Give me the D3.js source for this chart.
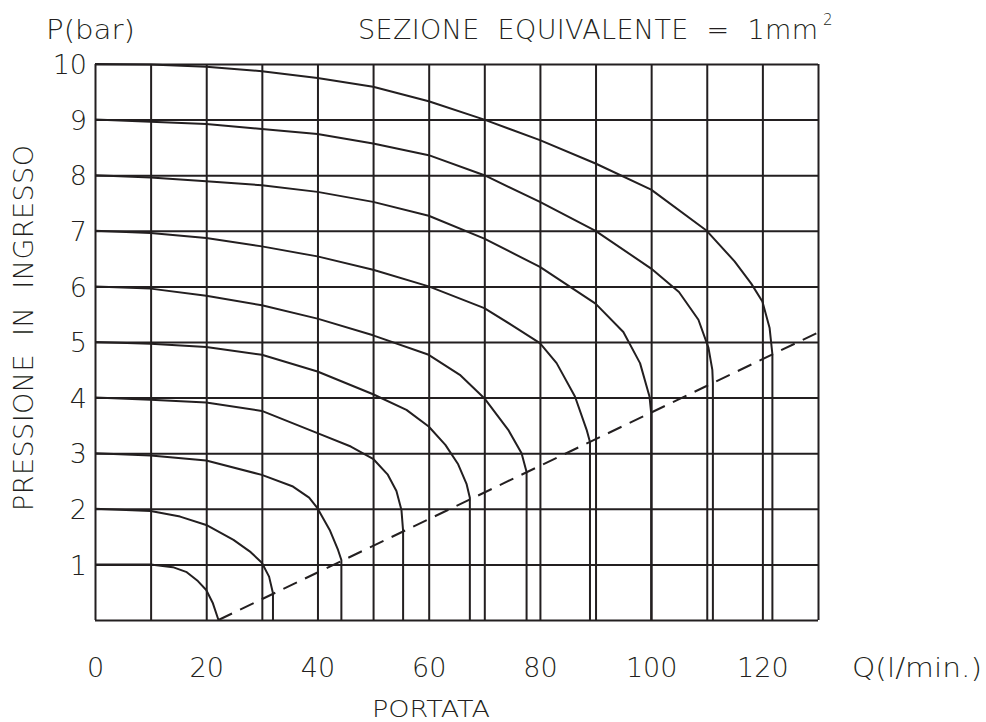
<!DOCTYPE html>
<html>
<head>
<meta charset="utf-8">
<script src="https://cdn.jsdelivr.net/npm/d3@7"></script>
<style>
body{margin:0;background:#fff;}
text{font-family:"DejaVu Sans",sans-serif;font-weight:200;fill:#231f20;}
</style>
</head>
<body>
<svg id="chart" width="986" height="722"></svg>
<script>
var ink = "#231f20";

// axis ticks
var qGrid = [0,10,20,30,40,50,60,70,80,90,100,110,120,130];
var pGrid = [0,1,2,3,4,5,6,7,8,9,10];
var qLabels = [0,20,40,60,80,100,120];
var pLabels = [1,2,3,4,5,6,7,8,9,10];

// curves: [Q (l/min), P (bar)], one per inlet pressure
var curve1  = [[0,1],[10,1],[14,0.95],[16.5,0.86],[18.5,0.7],[20,0.54],[21.2,0.3],[22.2,0]];
var curve2  = [[0,2],[10,1.96],[15.3,1.86],[20,1.71],[24.9,1.44],[28,1.22],[30,1.03],[31.3,0.78],[32,0.48],[32,0]];
var curve3  = [[0,3],[10,2.96],[20,2.87],[30,2.61],[35.6,2.4],[38.5,2.2],[40,2.01],[42.2,1.62],[43.7,1.26],[44.3,1.08],[44.3,0]];
var curve4  = [[0,4],[10,3.96],[20,3.91],[30,3.76],[40,3.36],[46,3.12],[50,2.9],[52.6,2.62],[54.2,2.32],[55.1,1.98],[55.4,1.6],[55.4,0]];
var curve5  = [[0,5],[10,4.97],[20,4.91],[30,4.77],[40,4.47],[50,4.06],[56,3.78],[60,3.48],[63,3.15],[65.3,2.8],[66.8,2.45],[67.4,2.2],[67.4,0]];
var curve6  = [[0,6],[10,5.96],[20,5.83],[30,5.66],[40,5.42],[50,5.12],[60,4.77],[65.6,4.41],[70,3.99],[74.3,3.42],[76.7,3.0],[77.6,2.66],[77.6,0]];
var curve7  = [[0,7],[10,6.96],[20,6.87],[30,6.72],[40,6.54],[50,6.3],[60,6.0],[70,5.61],[75,5.3],[80,4.98],[83,4.62],[86.3,4.02],[88.4,3.42],[89,3.2],[89,0]];
var curve8  = [[0,8],[10,7.96],[20,7.89],[30,7.82],[40,7.7],[50,7.52],[60,7.27],[70,6.86],[80,6.35],[90,5.69],[95,5.18],[98,4.62],[99.7,4.02],[100,3.73],[100,0]];
var curve9  = [[0,9],[10,8.96],[20,8.92],[30,8.83],[40,8.74],[50,8.57],[60,8.36],[70,8.0],[80,7.52],[90,7.0],[100,6.32],[105,5.9],[108.5,5.4],[110.3,4.9],[111,4.5],[111.1,4.26],[111.1,0]];
var curve10 = [[0,10],[10,9.99],[20,9.95],[30,9.87],[40,9.75],[50,9.59],[60,9.33],[70,9.0],[80,8.63],[90,8.21],[100,7.74],[110,7.0],[115,6.45],[118,6.05],[120,5.73],[121.3,5.25],[121.8,4.78],[121.8,0]];
var curves = [curve1,curve2,curve3,curve4,curve5,curve6,curve7,curve8,curve9,curve10];

// dashed limit line
var chokeLine = [[22.2,0],[130,5.17]];

var svg = d3.select("#chart");
var x = d3.scaleLinear().domain([0,130]).range([95,818]);
var y = d3.scaleLinear().domain([0,10]).range([620,64]);

// grid
var gx = svg.append("g").attr("transform","translate(0,620)")
	.call(d3.axisBottom(x).tickValues(qGrid).tickSize(-(620-64)).tickFormat(""));
gx.select(".domain").remove();
gx.selectAll("line").attr("stroke",ink).attr("stroke-width",2);

var gy = svg.append("g").attr("transform","translate(95,0)")
	.call(d3.axisLeft(y).tickValues(pGrid).tickSize(-(818-95)).tickFormat(""));
gy.select(".domain").remove();
gy.selectAll("line").attr("stroke",ink).attr("stroke-width",2);

// tick labels
var lx = svg.append("g").attr("transform","translate(0,620)")
	.call(d3.axisBottom(x).tickValues(qLabels).tickSize(0).tickPadding(57));
lx.select(".domain").remove();
lx.selectAll("text").attr("font-size",27).attr("font-family",null).attr("fill",ink).attr("dy",null);

var ly = svg.append("g").attr("transform","translate(95,0)")
	.call(d3.axisLeft(y).tickValues(pLabels).tickSize(0).tickPadding(8));
ly.select(".domain").remove();
ly.selectAll("text").attr("font-size",27).attr("font-family",null).attr("fill",ink).attr("dy","0.36em");

// curves
var line = d3.line().x(function(d){return x(d[0]);}).y(function(d){return y(d[1]);});
svg.append("g").selectAll("path").data(curves).enter().append("path")
	.attr("d",line).attr("fill","none").attr("stroke",ink).attr("stroke-width",2)
	.attr("stroke-linejoin","round");

svg.append("path").datum(chokeLine).attr("d",line).attr("fill","none")
	.attr("stroke",ink).attr("stroke-width",2).attr("stroke-dasharray","15,9");

// titles
svg.append("text").attr("x",46).attr("y",39).attr("font-size",27)
	.attr("textLength",89).attr("lengthAdjust","spacingAndGlyphs").text("P(bar)");
svg.append("text").attr("x",358).attr("y",39).attr("font-size",27)
	.attr("textLength",460).attr("lengthAdjust","spacing")
	.attr("xml:space","preserve").text("SEZIONE  EQUIVALENTE  =  1mm");
svg.append("text").attr("x",823).attr("y",25).attr("font-size",15).text("2");
svg.append("text").attr("x",852).attr("y",677).attr("font-size",27)
	.attr("textLength",130).attr("lengthAdjust","spacingAndGlyphs").text("Q(l/min.)");
svg.append("text").attr("x",372).attr("y",717).attr("font-size",23)
	.attr("textLength",118).attr("lengthAdjust","spacingAndGlyphs").text("PORTATA");
svg.append("text").attr("transform","translate(33,511) rotate(-90)").attr("font-size",27)
	.attr("textLength",366).attr("lengthAdjust","spacing")
	.attr("xml:space","preserve").text("PRESSIONE  IN  INGRESSO");
</script>
</body>
</html>
